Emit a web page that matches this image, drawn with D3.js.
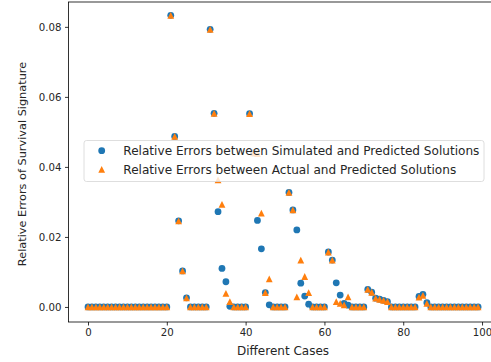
<!DOCTYPE html>
<html>
<head>
  <meta charset="utf-8">
  <script src="https://cdn.jsdelivr.net/npm/d3@7"></script>
  <style>
    body { margin: 0; background: #fff; }
    text { font-family: "DejaVu Sans", sans-serif; fill: #262626; }
  </style>
</head>
<body>
<script>
  // case index 0..99
  var cases = d3.range(0, 100);

  // relative errors between simulated and predicted solutions (blue circles)
  var simErrors = [
    0, 0, 0, 0, 0, 0, 0, 0, 0, 0,
    0, 0, 0, 0, 0, 0, 0, 0, 0, 0,
    0, 0.0833, 0.0487, 0.0246, 0.0103, 0.0026, 0, 0, 0, 0,
    0, 0.0793, 0.0553, 0.0272, 0.0110, 0.0072, 0.0002, 0, 0, 0,
    0, 0.0552, 0.0440, 0.0247, 0.0166, 0.0041, 0.0006, 0, 0, 0,
    0, 0.0327, 0.0277, 0.0220, 0.0068, 0.0031, 0.0008, 0, 0, 0,
    0, 0.0157, 0.0134, 0.0069, 0.0034, 0.0010, 0.0005, 0, 0, 0,
    0, 0.0050, 0.0042, 0.0025, 0.0022, 0.0019, 0.0015, 0, 0, 0,
    0, 0, 0, 0, 0.0030, 0.0036, 0.0012, 0, 0, 0,
    0, 0, 0, 0, 0, 0, 0, 0, 0, 0
  ];

  // relative errors between actual and predicted solutions (orange triangles)
  var actErrors = [
    0, 0, 0, 0, 0, 0, 0, 0, 0, 0,
    0, 0, 0, 0, 0, 0, 0, 0, 0, 0,
    0, 0.0833, 0.0487, 0.0246, 0.0103, 0.0026, 0, 0, 0, 0,
    0, 0.0793, 0.0553, 0.0363, 0.0293, 0.0039, 0.0015, 0, 0, 0,
    0, 0.0552, 0.0440, 0.0438, 0.0268, 0.0041, 0.0080, 0, 0, 0,
    0, 0.0327, 0.0277, 0.0029, 0.0134, 0.0087, 0.0041, 0, 0, 0,
    0, 0.0157, 0.0134, 0.0015, 0.0010, 0.0006, 0.0029, 0, 0, 0,
    0, 0.0050, 0.0042, 0.0025, 0.0022, 0.0019, 0.0015, 0, 0, 0,
    0, 0, 0, 0, 0.0028, 0.0033, 0.0010, 0, 0, 0,
    0, 0, 0, 0, 0, 0, 0, 0, 0, 0
  ];

  var xTicks = [0, 20, 40, 60, 80, 100];
  var yTicks = [0, 0.02, 0.04, 0.06, 0.08];
  var seriesNames = [
    "Relative Errors between Simulated and Predicted Solutions",
    "Relative Errors between Actual and Predicted Solutions"
  ];

  var W = 491, H = 362;
  var pLeft = 68.5, pTop = 2, pBottom = 322, pRight = 497.6;
  var blue = "#1f77b4", orange = "#ff7f0e";

  var svg = d3.select("body").append("svg")
    .attr("width", W).attr("height", H);

  var x = d3.scaleLinear().domain([-4.95, 103.95]).range([pLeft, pRight]);
  var y = d3.scaleLinear().domain([-0.0043, 0.0871]).range([pBottom, pTop]);

  /*
    axes
  */
  var xAxis = svg.append("g")
    .attr("transform", "translate(0," + pBottom + ")")
    .call(d3.axisBottom(x).tickValues(xTicks).tickFormat(d3.format("d"))
      .tickSizeInner(3.5).tickSizeOuter(0).tickPadding(3.5));
  var yAxis = svg.append("g")
    .attr("transform", "translate(" + pLeft + ",0)")
    .call(d3.axisLeft(y).tickValues(yTicks).tickFormat(d3.format(".2f"))
      .tickSizeInner(3.5).tickSizeOuter(0).tickPadding(3.5));
  [xAxis, yAxis].forEach(function(g) {
    g.select(".domain").remove();
    g.selectAll("line").attr("stroke", "#000").attr("stroke-width", 0.8);
    g.selectAll("text").style("font-size", "10.2px")
      .style("font-family", "DejaVu Sans").attr("fill", "#262626");
  });

  // spines (right one falls outside the picture)
  svg.append("rect")
    .attr("x", pLeft).attr("y", pTop)
    .attr("width", pRight - pLeft).attr("height", pBottom - pTop)
    .attr("fill", "none").attr("stroke", "#000").attr("stroke-width", 0.8);

  /*
    scatter points
  */
  var tri = function(h) {
    return "M0," + (-h) + "L" + h + "," + h + "L" + (-h) + "," + h + "Z";
  };

  svg.append("g").selectAll("circle")
    .data(cases)
    .enter().append("circle")
    .attr("cx", function(d) { return x(d); })
    .attr("cy", function(d) { return y(simErrors[d]); })
    .attr("r", 3.4)
    .attr("fill", blue);

  svg.append("g").selectAll("path")
    .data(cases)
    .enter().append("path")
    .attr("d", tri(3.4))
    .attr("transform", function(d) {
      return "translate(" + x(d) + "," + y(actErrors[d]) + ")";
    })
    .attr("fill", orange);

  /*
    legend
  */
  var lg = svg.append("g");
  lg.append("rect")
    .attr("x", 84).attr("y", 140.5).attr("width", 400).attr("height", 41)
    .attr("rx", 2.5)
    .attr("fill", "#fff").attr("fill-opacity", 0.8)
    .attr("stroke", "#d6d6d6").attr("stroke-width", 0.8);
  lg.append("circle").attr("cx", 101.7).attr("cy", 150.7).attr("r", 3.4).attr("fill", blue);
  lg.append("path").attr("d", tri(3.4))
    .attr("transform", "translate(101.7,169.3)").attr("fill", orange);
  lg.selectAll("text.lab")
    .data(seriesNames)
    .enter().append("text")
    .attr("class", "lab")
    .attr("x", 123.3)
    .attr("y", function(d, i) { return 150.7 + i * 18.6; })
    .attr("dy", "0.35em")
    .style("font-size", "12.1px")
    .text(function(d) { return d; });

  /*
    axis titles
  */
  svg.append("text")
    .attr("x", (pLeft + pRight) / 2).attr("y", 351)
    .attr("dy", "0.35em")
    .attr("text-anchor", "middle")
    .style("font-size", "12px")
    .text("Different Cases");

  svg.append("text")
    .attr("transform", "translate(22," + 164 + ") rotate(-90)")
    .attr("dy", "0.35em")
    .attr("text-anchor", "middle")
    .style("font-size", "11.3px")
    .text("Relative Errors of Survival Signature");
</script>
</body>
</html>
